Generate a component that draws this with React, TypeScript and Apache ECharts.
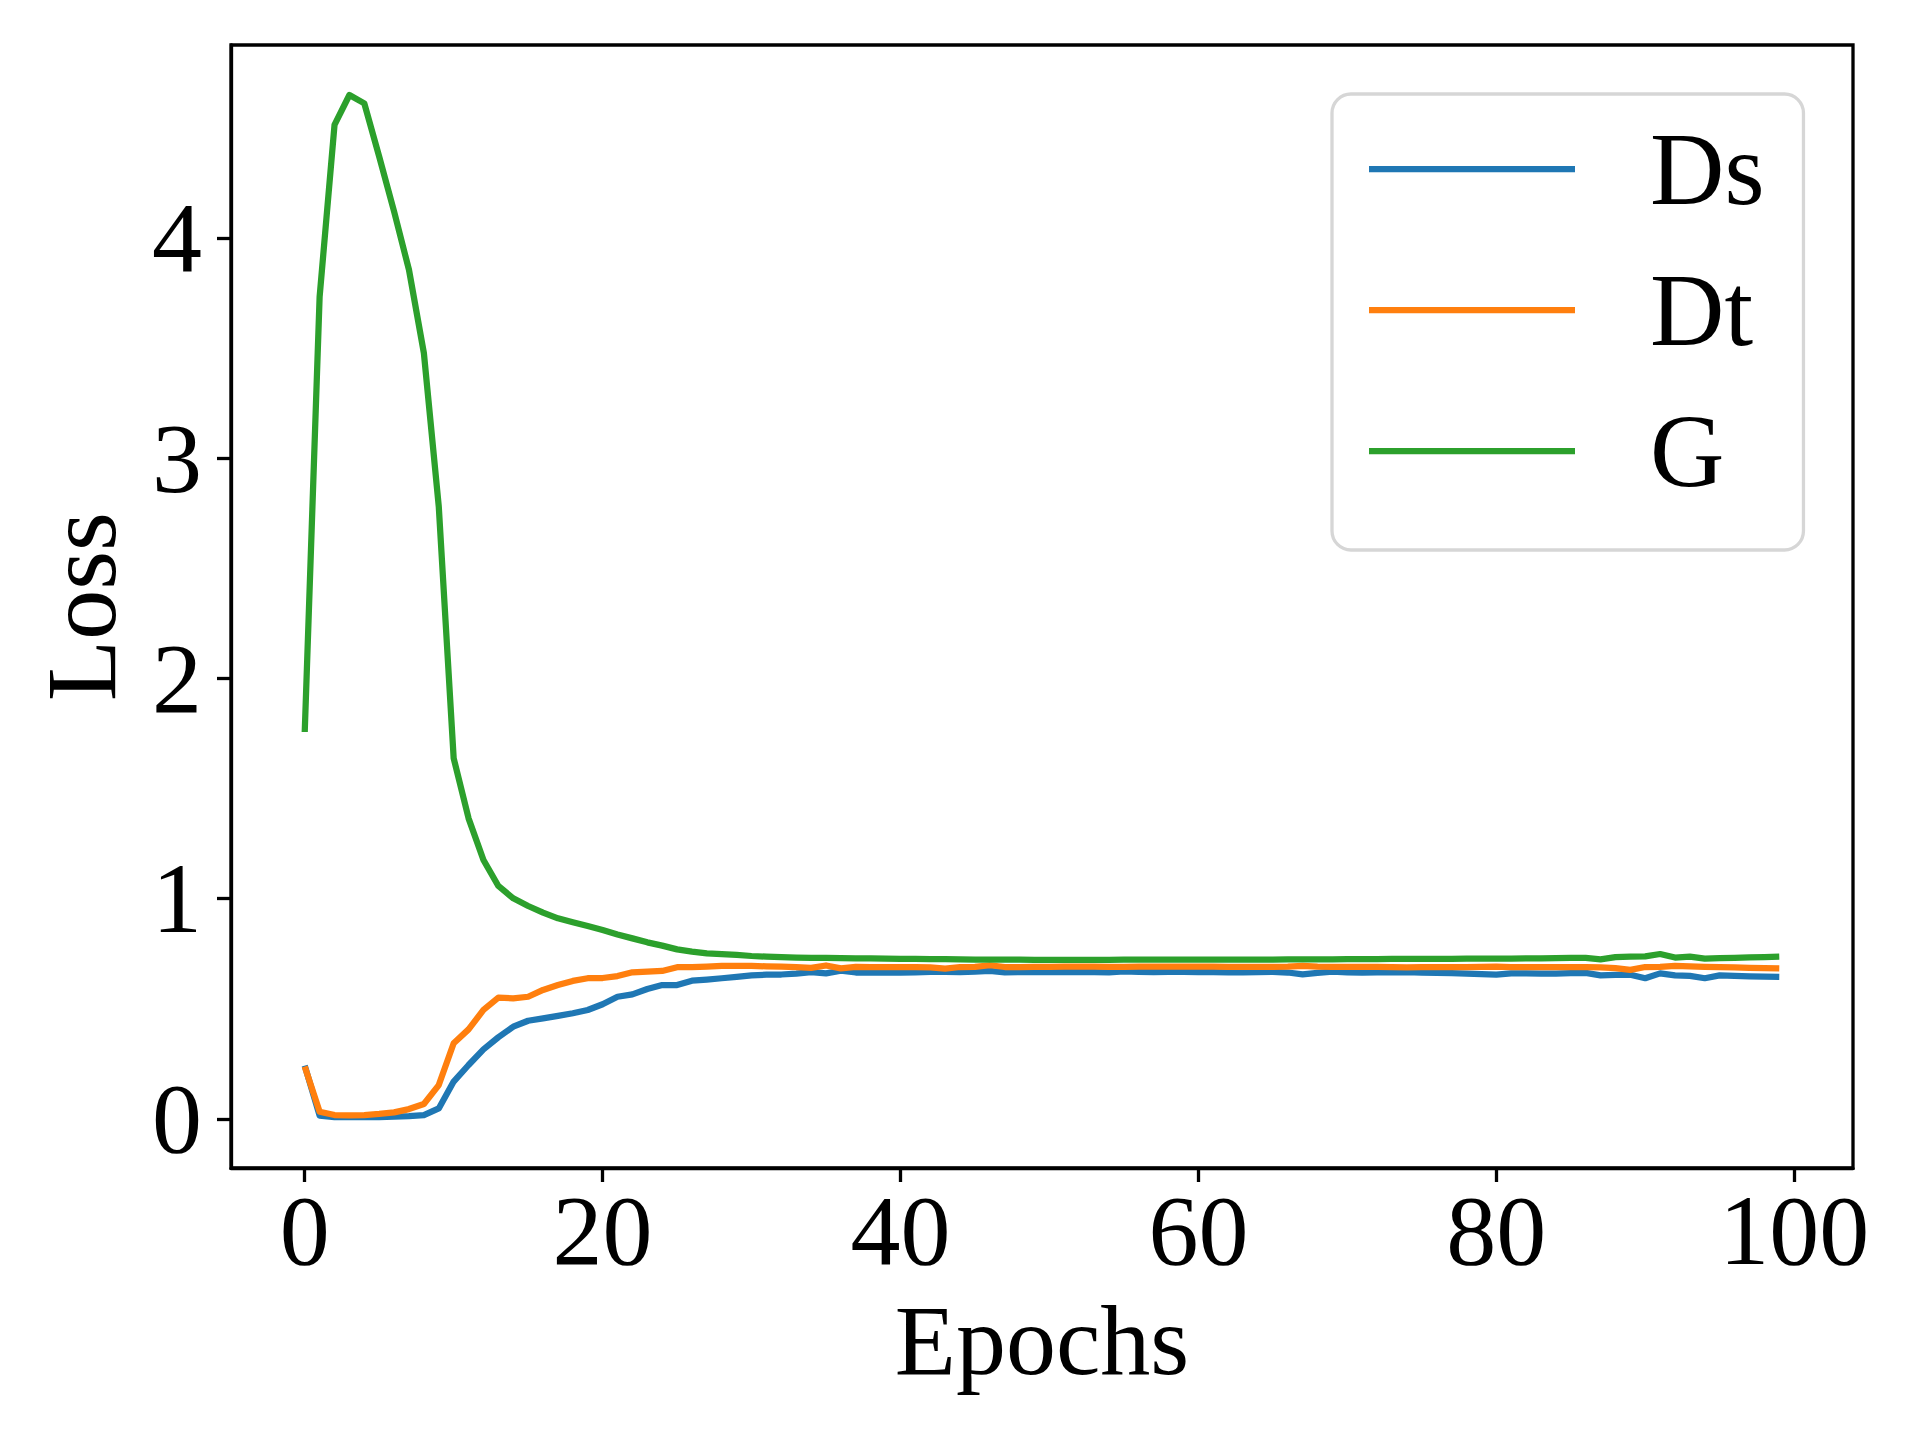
import React, { useEffect, useRef } from "react";
import * as echarts from "echarts";

const epochs: number[] = Array.from({ length: 100 }, (_, i) => i);

const dsLoss: number[] = [
  0.242, 0.015, 0.008, 0.008, 0.008, 0.009, 0.011, 0.013, 0.018, 0.048,
  0.170, 0.245, 0.316, 0.371, 0.419, 0.446, 0.457, 0.468, 0.480, 0.495,
  0.521, 0.555, 0.566, 0.590, 0.608, 0.608, 0.628, 0.633, 0.639, 0.645,
  0.652, 0.655, 0.656, 0.660, 0.667, 0.661, 0.673, 0.665, 0.665, 0.665,
  0.664, 0.666, 0.668, 0.668, 0.667, 0.669, 0.672, 0.666, 0.667, 0.667,
  0.667, 0.668, 0.667, 0.667, 0.666, 0.670, 0.668, 0.667, 0.668, 0.668,
  0.667, 0.667, 0.666, 0.666, 0.667, 0.668, 0.665, 0.657, 0.663, 0.669,
  0.666, 0.665, 0.666, 0.666, 0.667, 0.664, 0.663, 0.662, 0.660, 0.658,
  0.655, 0.661, 0.661, 0.660, 0.660, 0.662, 0.663, 0.652, 0.654, 0.655,
  0.639, 0.661, 0.652, 0.650, 0.639, 0.652, 0.650, 0.648, 0.646, 0.645,
];

const dtLoss: number[] = [
  0.238, 0.033, 0.018, 0.016, 0.018, 0.023, 0.030, 0.045, 0.068, 0.154,
  0.344, 0.407, 0.495, 0.551, 0.548, 0.555, 0.586, 0.608, 0.627, 0.639,
  0.640, 0.649, 0.666, 0.669, 0.672, 0.689, 0.690, 0.692, 0.695, 0.695,
  0.695, 0.693, 0.692, 0.690, 0.686, 0.697, 0.684, 0.691, 0.690, 0.690,
  0.690, 0.690, 0.688, 0.683, 0.690, 0.691, 0.698, 0.690, 0.690, 0.691,
  0.691, 0.692, 0.692, 0.692, 0.691, 0.691, 0.692, 0.692, 0.692, 0.692,
  0.692, 0.692, 0.691, 0.691, 0.691, 0.691, 0.692, 0.695, 0.692, 0.691,
  0.691, 0.691, 0.691, 0.690, 0.688, 0.690, 0.690, 0.689, 0.689, 0.691,
  0.692, 0.690, 0.689, 0.689, 0.689, 0.689, 0.689, 0.688, 0.685, 0.677,
  0.690, 0.691, 0.695, 0.693, 0.691, 0.690, 0.688, 0.686, 0.685, 0.684,
];

const gLoss: number[] = [
  1.757, 3.733, 4.513, 4.649, 4.611, 4.369, 4.120, 3.855, 3.477, 2.780,
  1.638, 1.365, 1.176, 1.058, 1.002, 0.967, 0.937, 0.911, 0.893, 0.876,
  0.858, 0.838, 0.820, 0.802, 0.787, 0.770, 0.760, 0.752, 0.749, 0.745,
  0.740, 0.737, 0.735, 0.733, 0.732, 0.731, 0.730, 0.729, 0.729, 0.728,
  0.727, 0.727, 0.726, 0.726, 0.725, 0.724, 0.723, 0.723, 0.723, 0.722,
  0.722, 0.722, 0.722, 0.722, 0.722, 0.723, 0.723, 0.723, 0.723, 0.723,
  0.723, 0.723, 0.724, 0.724, 0.724, 0.724, 0.725, 0.725, 0.725, 0.725,
  0.726, 0.726, 0.726, 0.727, 0.727, 0.727, 0.727, 0.727, 0.728, 0.728,
  0.728, 0.728, 0.729, 0.729, 0.730, 0.731, 0.731, 0.725, 0.735, 0.737,
  0.738, 0.749, 0.733, 0.737, 0.728, 0.730, 0.732, 0.734, 0.735, 0.737,
];

const seriesNames: string[] = ["Ds", "Dt", "G"];
const seriesColors: string[] = ["#1f77b4", "#ff7f0e", "#2ca02c"];
const xTicks: number[] = [0, 20, 40, 60, 80, 100];
const yTicks: number[] = [0, 1, 2, 3, 4];

const FONT = "'Liberation Serif', 'Times New Roman', serif";

export default function App() {
  const ref = useRef<HTMLDivElement>(null);

  useEffect(() => {
    if (!ref.current) return;
    const chart = echarts.init(ref.current, null, { renderer: "svg" });
    const values = [dsLoss, dtLoss, gLoss];
    chart.setOption({
      animation: false,
      backgroundColor: "#ffffff",
      textStyle: { fontFamily: FONT, color: "#000" },
      grid: {
        left: 231,
        top: 45,
        width: 1622,
        height: 1123,
        show: true,
        borderColor: "#000",
        borderWidth: 3.3,
        backgroundColor: "transparent",
        containLabel: false,
      },
      xAxis: {
        type: "value",
        min: -4.95,
        max: 103.95,
        name: "Epochs",
        nameLocation: "middle",
        nameGap: 122,
        nameTextStyle: { fontSize: 100, fontFamily: FONT, color: "#000" },
        axisLine: { show: true, onZero: false, lineStyle: { color: "#000", width: 3.3 } },
        splitLine: { show: false },
        axisTick: {
          show: true,
          inside: false,
          length: 14,
          lineStyle: { color: "#000", width: 3.3 },
          customValues: xTicks,
        },
        axisLabel: {
          show: true,
          fontSize: 100,
          fontFamily: FONT,
          color: "#000",
          margin: 12,
          customValues: xTicks,
        },
      },
      yAxis: {
        type: "value",
        min: -0.2225,
        max: 4.876,
        name: "Loss",
        nameLocation: "middle",
        nameGap: 100,
        nameTextStyle: { fontSize: 100, fontFamily: FONT, color: "#000" },
        axisLine: { show: true, onZero: false, lineStyle: { color: "#000", width: 3.3 } },
        splitLine: { show: false },
        axisTick: {
          show: true,
          inside: false,
          length: 14,
          lineStyle: { color: "#000", width: 3.3 },
          customValues: yTicks,
        },
        axisLabel: {
          show: true,
          fontSize: 100,
          fontFamily: FONT,
          color: "#000",
          margin: 29,
          customValues: yTicks,
        },
      },
      legend: {
        data: seriesNames,
        orient: "vertical",
        left: 1332,
        top: 94,
        padding: [15, 39, 39, 37],
        itemGap: 21,
        itemWidth: 206,
        itemHeight: 6.25,
        icon: "rect",
        selectedMode: false,
        backgroundColor: "rgba(255,255,255,0.8)",
        borderColor: "#d6d6d6",
        borderWidth: 3.3,
        borderRadius: 19,
        textStyle: {
          fontSize: 103,
          fontFamily: FONT,
          color: "#000",
          padding: [0, 0, 0, 70],
          lineHeight: 120,
        },
      },
      series: seriesNames.map((name, k) => ({
        name,
        type: "line",
        data: epochs.map((e, i) => [e, values[k][i]]),
        showSymbol: false,
        symbol: "none",
        lineStyle: { color: seriesColors[k], width: 6.25, cap: "butt", join: "round" },
        itemStyle: { color: seriesColors[k] },
        emphasis: { disabled: true },
        z: 2 + k,
      })),
    });
    return () => chart.dispose();
  }, []);

  return (
    <div
      ref={ref}
      style={{ position: "absolute", left: 0, top: 0, width: 1920, height: 1440 }}
    />
  );
}
